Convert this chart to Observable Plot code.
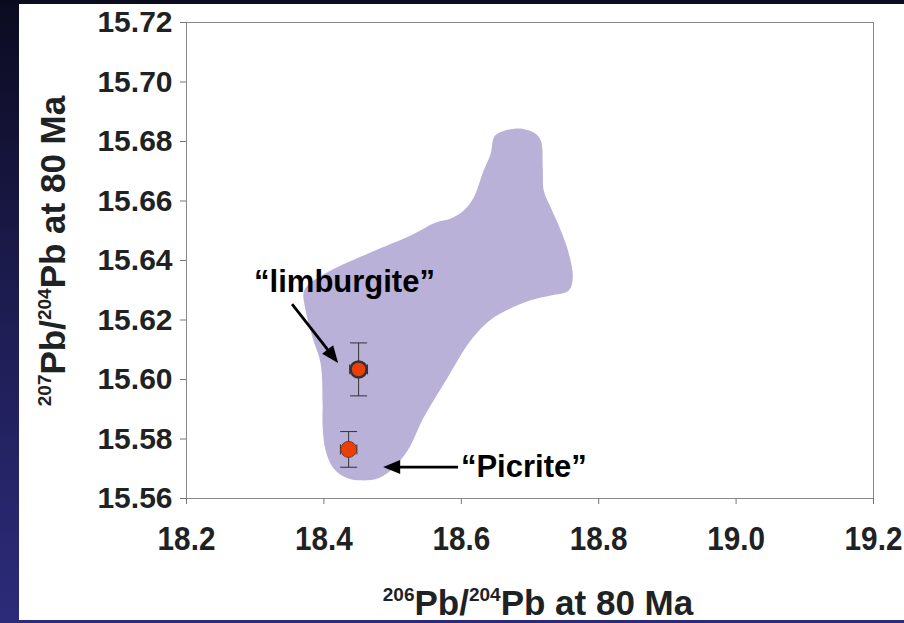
<!DOCTYPE html>
<html>
<head>
<meta charset="utf-8">
<script src="https://cdn.jsdelivr.net/npm/d3@7"></script>
<script src="https://cdn.jsdelivr.net/npm/@observablehq/plot@0.6"></script>
<style>
  html, body { margin: 0; padding: 0; }
  body {
    width: 904px; height: 623px; overflow: hidden; position: relative;
    background: linear-gradient(to bottom, #0b0b20 0%, #1c1b4e 45%, #2c2b7a 100%);
  }
  #panel { position: absolute; left: 19px; top: 4px; width: 885px; height: 616px; background: #ffffff; }
  #panel svg { display: block; }
</style>
</head>
<body>
<div id="panel"></div>
<script>
// ---- data ----
const xTicks = [18.2, 18.4, 18.6, 18.8, 19.0, 19.2];
const yTicks = [15.56, 15.58, 15.60, 15.62, 15.64, 15.66, 15.68, 15.70, 15.72];

// outline of the shaded field (206Pb/204Pb, 207Pb/204Pb)
const fieldX = [18.4535, 18.4316, 18.4141, 18.4025, 18.3981, 18.3981, 18.3952, 18.3835, 18.3719, 18.3704,
  18.3777, 18.4098, 18.4680, 18.5263, 18.5627, 18.5846, 18.6035, 18.6181, 18.6326, 18.6428,
  18.6472, 18.6530, 18.6822, 18.7055, 18.7157, 18.7186, 18.7200, 18.7302, 18.7448, 18.7564,
  18.7623, 18.7564, 18.7302, 18.7011, 18.6472, 18.6137, 18.5802, 18.5452, 18.5219, 18.4972, 18.4782];
const fieldY = [15.5661, 15.5671, 15.5701, 15.5761, 15.5845, 15.5919, 15.6054, 15.6141, 15.6249, 15.6292,
  15.6319, 15.6366, 15.6427, 15.6484, 15.6528, 15.6541, 15.6568, 15.6612, 15.6703, 15.6760,
  15.6813, 15.6827, 15.6844, 15.6830, 15.6803, 15.6713, 15.6635, 15.6578, 15.6501, 15.6424,
  15.6343, 15.6299, 15.6282, 15.6266, 15.6208, 15.6131, 15.6007, 15.5872, 15.5761, 15.5694, 15.5667];

// samples
const sampleNames = ["limburgite", "Picrite"];
const sampleX = [18.4505, 18.4360];
const sampleY = [15.6034, 15.5765];
const sampleYErr = [0.0089, 0.0060];
const sampleXErr = [0.013, 0.012];

// annotations
const labelText = ["\u201Climburgite\u201D", "\u201CPicrite\u201D"];
const labelX = [18.430, 18.691];
const labelY = [15.6326, 15.5704];
const arrowX1 = [18.3544, 18.596];
const arrowY1 = [15.6252, 15.5704];
const arrowX2 = [18.4214, 18.487];
const arrowY2 = [15.6054, 15.5704];

// ---- tables ----
const field = fieldX.map((x, i) => ({x, y: fieldY[i]}));
const samples = sampleNames.map((n, i) => ({name: n, x: sampleX[i], y: sampleY[i], ey: sampleYErr[i], ex: sampleXErr[i]}));
const labels = labelText.map((t, i) => ({t, x: labelX[i], y: labelY[i]}));
const arrows = arrowX1.map((x1, i) => ({x1, y1: arrowY1[i], x2: arrowX2[i], y2: arrowY2[i]}));

const hCap = {draw(ctx, size) { const r = 8.5; ctx.moveTo(-r, 0); ctx.lineTo(r, 0); }};
const vCap = {draw(ctx, size) { const r = 5; ctx.moveTo(0, -r); ctx.lineTo(0, r); }};

const bold = "'Liberation Sans', Arial, sans-serif";

const chart = Plot.plot({
  width: 885,
  height: 616,
  marginLeft: 167,
  marginRight: 31,
  marginTop: 18,
  marginBottom: 122,
  style: {background: "transparent", overflow: "visible"},
  x: {domain: [18.2, 19.2]},
  y: {domain: [15.56, 15.72]},
  marks: [
    Plot.line(field, {x: "x", y: "y", curve: "catmull-rom-closed", fill: "#b9b1d7", stroke: "none"}),
    Plot.frame({stroke: "#8a8a8a", strokeWidth: 1}),
    Plot.axisY({ticks: yTicks, tickFormat: d3.format(".2f"), tickSize: 6, tickPadding: 8, label: null,
      stroke: "#777", fill: "#1e2223", fontSize: 30, fontWeight: "bold", fontFamily: bold}),
    Plot.axisX({ticks: xTicks, tickFormat: d3.format(".1f"), tickSize: 6, tickPadding: 22, label: null,
      stroke: "#777", fill: "#1e2223", fontSize: 33, fontWeight: "bold", fontFamily: bold}),
    // error bars
    Plot.link(samples, {x1: "x", x2: "x", y1: d => d.y - d.ey, y2: d => d.y + d.ey, stroke: "#333", strokeWidth: 1}),
    Plot.dot(samples, {x: "x", y: d => d.y - d.ey, symbol: hCap, stroke: "#333", strokeWidth: 1}),
    Plot.dot(samples, {x: "x", y: d => d.y + d.ey, symbol: hCap, stroke: "#333", strokeWidth: 1}),
    Plot.link(samples, {x1: d => d.x - d.ex, x2: d => d.x + d.ex, y1: "y", y2: "y", stroke: "#333", strokeWidth: 1}),
    Plot.dot(samples, {x: d => d.x - d.ex, y: "y", symbol: vCap, stroke: "#333", strokeWidth: 1}),
    Plot.dot(samples, {x: d => d.x + d.ex, y: "y", symbol: vCap, stroke: "#333", strokeWidth: 1}),
    // markers
    Plot.dot(samples, {x: "x", y: "y", r: 8, fill: "#ea3f08",
      stroke: d => d.name === "limburgite" ? "#333" : "#7a3a20",
      strokeWidth: d => d.name === "limburgite" ? 2.5 : 1}),
    // annotation labels
    Plot.text(labels, {x: "x", y: "y", text: "t", fontSize: 31, fontWeight: "bold", fontFamily: bold, fill: "#000"})
  ]
});

document.getElementById("panel").appendChild(chart);

const svg = d3.select(chart);

// slightly condensed x tick labels (as in the reference)
const xTickSet = new Set(xTicks.map(t => d3.format(".1f")(t)));
svg.selectAll("text").each(function() {
  const el = d3.select(this);
  if (xTickSet.has(el.text())) {
    const tr = el.attr("transform") || "";
    el.attr("transform", tr + " scale(0.9,1)");
  }
});

// filled arrows, positioned through the plot's scales
const sx = chart.scale("x"), sy = chart.scale("y");
const ag = svg.append("g");
const headLen = 17, headHalf = 7;
arrows.forEach(a => {
  const x1 = sx.apply(a.x1), y1 = sy.apply(a.y1), x2 = sx.apply(a.x2), y2 = sy.apply(a.y2);
  const dx = x2 - x1, dy = y2 - y1, L = Math.hypot(dx, dy), ux = dx / L, uy = dy / L;
  const bx = x2 - ux * headLen, by = y2 - uy * headLen;
  ag.append("line").attr("x1", x1).attr("y1", y1).attr("x2", bx + ux).attr("y2", by + uy)
    .attr("stroke", "#000").attr("stroke-width", 2.8);
  ag.append("path")
    .attr("d", `M${x2},${y2}L${bx - uy * headHalf},${by + ux * headHalf}L${bx + uy * headHalf},${by - ux * headHalf}Z`)
    .attr("fill", "#000");
});

// axis titles with superscripts
const xt = svg.append("text")
  .attr("x", 519).attr("y", 611)
  .attr("text-anchor", "middle")
  .attr("font-family", bold).attr("font-weight", "bold").attr("font-size", 35).attr("fill", "#1e2223");
xt.append("tspan").attr("font-size", 19).attr("dy", -14).text("206");
xt.append("tspan").attr("dy", 14).text("Pb/");
xt.append("tspan").attr("font-size", 19).attr("dy", -14).text("204");
xt.append("tspan").attr("dy", 14).text("Pb at 80 Ma");

const yt = svg.append("text")
  .attr("transform", "translate(46,247) rotate(-90)")
  .attr("text-anchor", "middle")
  .attr("font-family", bold).attr("font-weight", "bold").attr("font-size", 35).attr("fill", "#1e2223");
yt.append("tspan").attr("font-size", 19).attr("dy", -14).text("207");
yt.append("tspan").attr("dy", 14).text("Pb/");
yt.append("tspan").attr("font-size", 19).attr("dy", -14).text("204");
yt.append("tspan").attr("dy", 14).text("Pb at 80 Ma");
</script>
</body>
</html>
